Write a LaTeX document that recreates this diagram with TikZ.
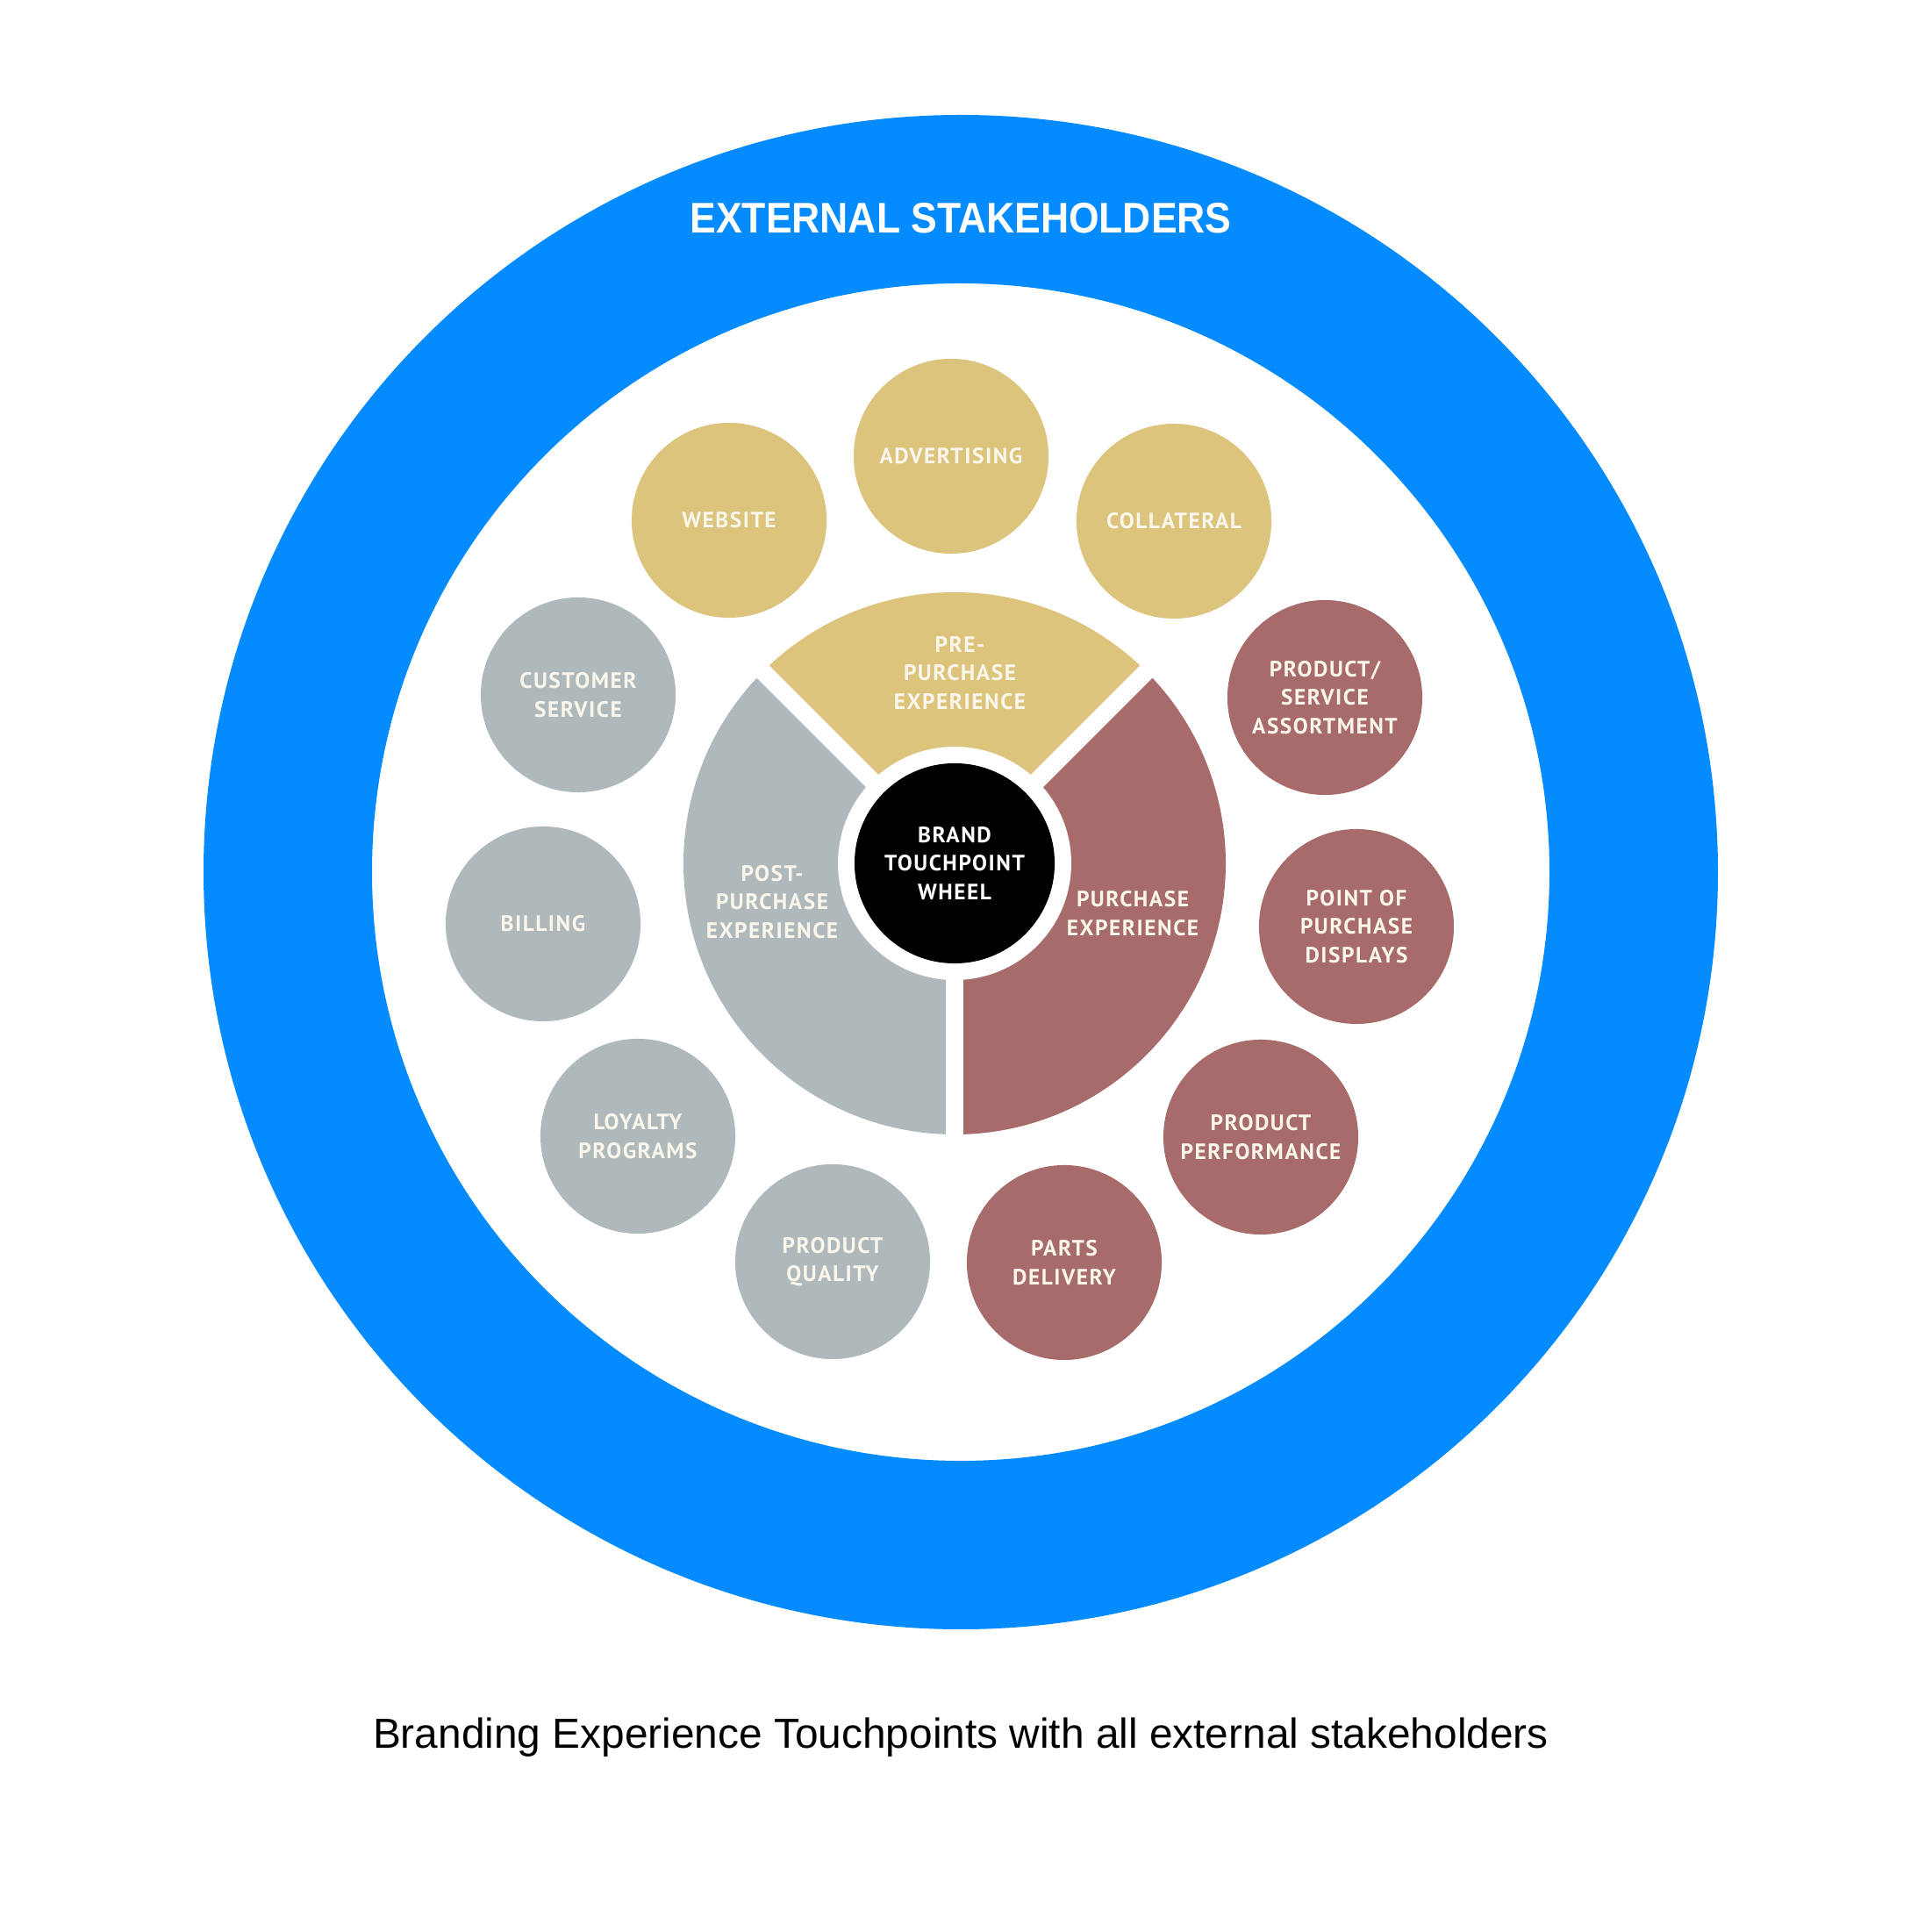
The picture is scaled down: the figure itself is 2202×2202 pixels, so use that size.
\documentclass[tikz,border=0pt]{standalone}
\usepackage{fontspec}
\usepackage{graphicx}
\setmainfont{Liberation Sans}
\newfontfamily\dinfont[LetterSpace=6]{PT Sans}
\definecolor{ringblue}{HTML}{038BFF}
\definecolor{gold}{HTML}{DDC47C}
\definecolor{greyc}{HTML}{AFB9BC}
\definecolor{maroon}{HTML}{A76B6B}
\definecolor{cream}{HTML}{FAF6EC}
\tikzset{
  touch/.style={circle, minimum size=2.22cm, inner sep=0pt, align=center,
    text=cream, font=\dinfont\bfseries\fontsize{7.2}{9.2}\selectfont},
  goldc/.style={touch, fill=gold},
  greyn/.style={touch, fill=greyc},
  maroonc/.style={touch, fill=maroon},
  seclabel/.style={align=center, text=cream, font=\dinfont\bfseries\fontsize{7.2}{9.2}\selectfont},
  gap/.style={white, line width=0.2cm}
}
\begin{document}
\begin{tikzpicture}[x=0.01cm, y=0.01cm]
\useasboundingbox[fill=white] (0,0) rectangle (2202,2202);
% outer ring
\fill[ringblue, even odd rule] (1095,1208) circle[radius=863] (1095,1208) circle[radius=671];
\node[font=\bfseries\fontsize{13.9}{16}\selectfont, text=white] (ext) at (1095,1953) {\scalebox{0.91}[1]{EXTERNAL STAKEHOLDERS}};
% wheel
\coordinate (C) at (1088,1218);
\fill[gold] (C) -- ++(45:309) arc[start angle=45, end angle=135, radius=309] -- cycle;
\fill[greyc] (C) -- ++(135:309) arc[start angle=135, end angle=270, radius=309] -- cycle;
\fill[maroon] (C) -- ++(-90:309) arc[start angle=-90, end angle=45, radius=309] -- cycle;
\draw[gap] (C) -- ++(45:330);
\draw[gap] (C) -- ++(135:330);
\draw[gap] (C) -- ++(270:330);
\fill[white] (C) circle[radius=133];
\node[circle, fill=black, minimum size=2.28cm, inner sep=0pt, align=center, text=white,
  font=\dinfont\bfseries\fontsize{7.2}{9.2}\selectfont] (hub) at (C) {BRAND\\TOUCHPOINT\\WHEEL};
\node[seclabel] (pre) at (1094,1435) {PRE-\\PURCHASE\\EXPERIENCE};
\node[seclabel] (post) at (880,1174) {POST-\\PURCHASE\\EXPERIENCE};
\node[seclabel] (pur) at (1291,1161) {PURCHASE\\EXPERIENCE};
% touchpoints
\node[goldc] (adv) at (1084,1682) {ADVERTISING};
\node[goldc] (web) at (831,1609) {WEBSITE};
\node[goldc] (col) at (1338,1608) {COLLATERAL};
\node[greyn] (cs) at (659,1410) {CUSTOMER\\SERVICE};
\node[greyn] (bill) at (619,1149) {BILLING};
\node[greyn] (loy) at (727,907) {LOYALTY\\PROGRAMS};
\node[greyn] (qual) at (949,764) {PRODUCT\\QUALITY};
\node[maroonc] (parts) at (1213,763) {PARTS\\DELIVERY};
\node[maroonc] (perf) at (1437,906) {PRODUCT\\PERFORMANCE};
\node[maroonc] (pop) at (1546,1146) {POINT OF\\PURCHASE\\DISPLAYS};
\node[maroonc] (asst) at (1510,1407) {PRODUCT/\\SERVICE\\ASSORTMENT};
% caption
\node[font=\fontsize{13.6}{16}\selectfont, text=black] (cap) at (1095,222) {Branding Experience Touchpoints with all external stakeholders};
\end{tikzpicture}
\end{document}
